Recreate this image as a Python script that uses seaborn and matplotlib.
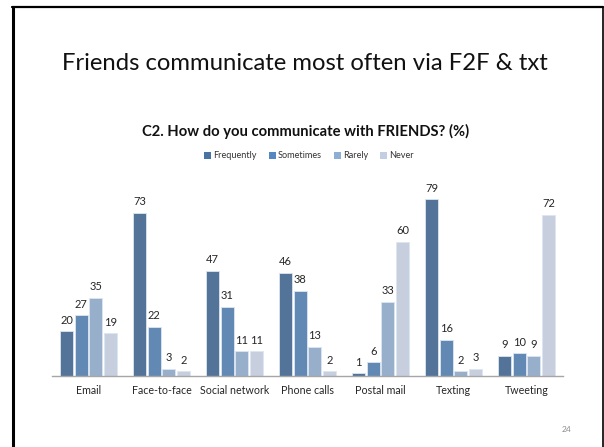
import matplotlib
matplotlib.use("Agg")
import matplotlib.pyplot as plt
import seaborn as sns
import pandas as pd
from matplotlib.lines import Line2D
from matplotlib.patches import Patch

categories = ["Email", "Face-to-face", "Social network", "Phone calls",
              "Postal mail", "Texting", "Tweeting"]
series = ["Frequently", "Sometimes", "Rarely", "Never"]
frequently = [20, 73, 47, 46, 1, 79, 9]
sometimes = [27, 22, 31, 38, 6, 16, 10]
rarely = [35, 3, 11, 13, 33, 2, 9]
never = [19, 2, 11, 2, 60, 3, 72]
colors = ["#4873A3", "#5588C0", "#8FAED4", "#C3CEE3"]

rows = []
for s, vals in zip(series, [frequently, sometimes, rarely, never]):
    for c, v in zip(categories, vals):
        rows.append({"Channel": c, "Response": s, "Percent": v})
df = pd.DataFrame(rows)

sns.set_theme(style="white")
plt.rcParams["font.family"] = ["Lato", "DejaVu Sans"]

fig = plt.figure(figsize=(6.04, 4.47), dpi=100)
fig.patch.set_facecolor("white")

ax = fig.add_axes([52 / 604, 71.3 / 447, 511 / 604, 200 / 447])
sns.barplot(data=df, x="Channel", y="Percent", hue="Response",
            order=categories, hue_order=series, palette=colors,
            width=0.8, gap=0.13, edgecolor="#DCE6F2", linewidth=0.6,
            legend=False, ax=ax)
ax.set_ylim(0, 89.6)
ax.set_xlim(-0.5, len(categories) - 0.5)
ax.set_xlabel("")
ax.set_ylabel("")
ax.set_yticks([])
for side in ["top", "right", "left"]:
    ax.spines[side].set_visible(False)
ax.spines["bottom"].set_color("#A6A6A6")
ax.spines["bottom"].set_linewidth(1.0)
ax.tick_params(axis="x", length=0, pad=7, labelsize=7.7, colors="#262626")

for cont in ax.containers:
    ax.bar_label(cont, fmt="%d", padding=4, fontsize=8, color="#262626")

fig.text(305 / 604, 1 - 63 / 447, "Friends communicate most often via F2F & txt",
         ha="center", va="center", fontsize=17.2, color="#111111")
fig.text(306 / 604, 1 - 131 / 447, "C2. How do you communicate with FRIENDS? (%)",
         ha="center", va="center", fontsize=10.6, fontweight="bold", color="#111111")

handles = [Patch(facecolor=c, edgecolor="none") for c in colors]
fig.legend(handles, series, loc="center", bbox_to_anchor=(309 / 604, 1 - 156 / 447),
           ncol=4, frameon=False, fontsize=6.6, handlelength=0.75, handleheight=0.75,
           handletextpad=0.25, columnspacing=1.3, labelcolor="#333333")

fig.text(567 / 604, 1 - 430 / 447, "24", ha="center", va="center",
         fontsize=6, color="#8C8C8C")

# slide frame
fig.add_artist(Line2D([13 / 604, 13 / 604], [0, 1 - 7 / 447],
                      transform=fig.transFigure, color="black", lw=2.2))
fig.add_artist(Line2D([12 / 604, 603 / 604], [1 - 7 / 447, 1 - 7 / 447],
                      transform=fig.transFigure, color="black", lw=1.6))
fig.add_artist(Line2D([603 / 604, 603 / 604], [0, 1 - 7 / 447],
                      transform=fig.transFigure, color="black", lw=1.2))

fig.savefig("out.png", dpi=100, facecolor="white")
